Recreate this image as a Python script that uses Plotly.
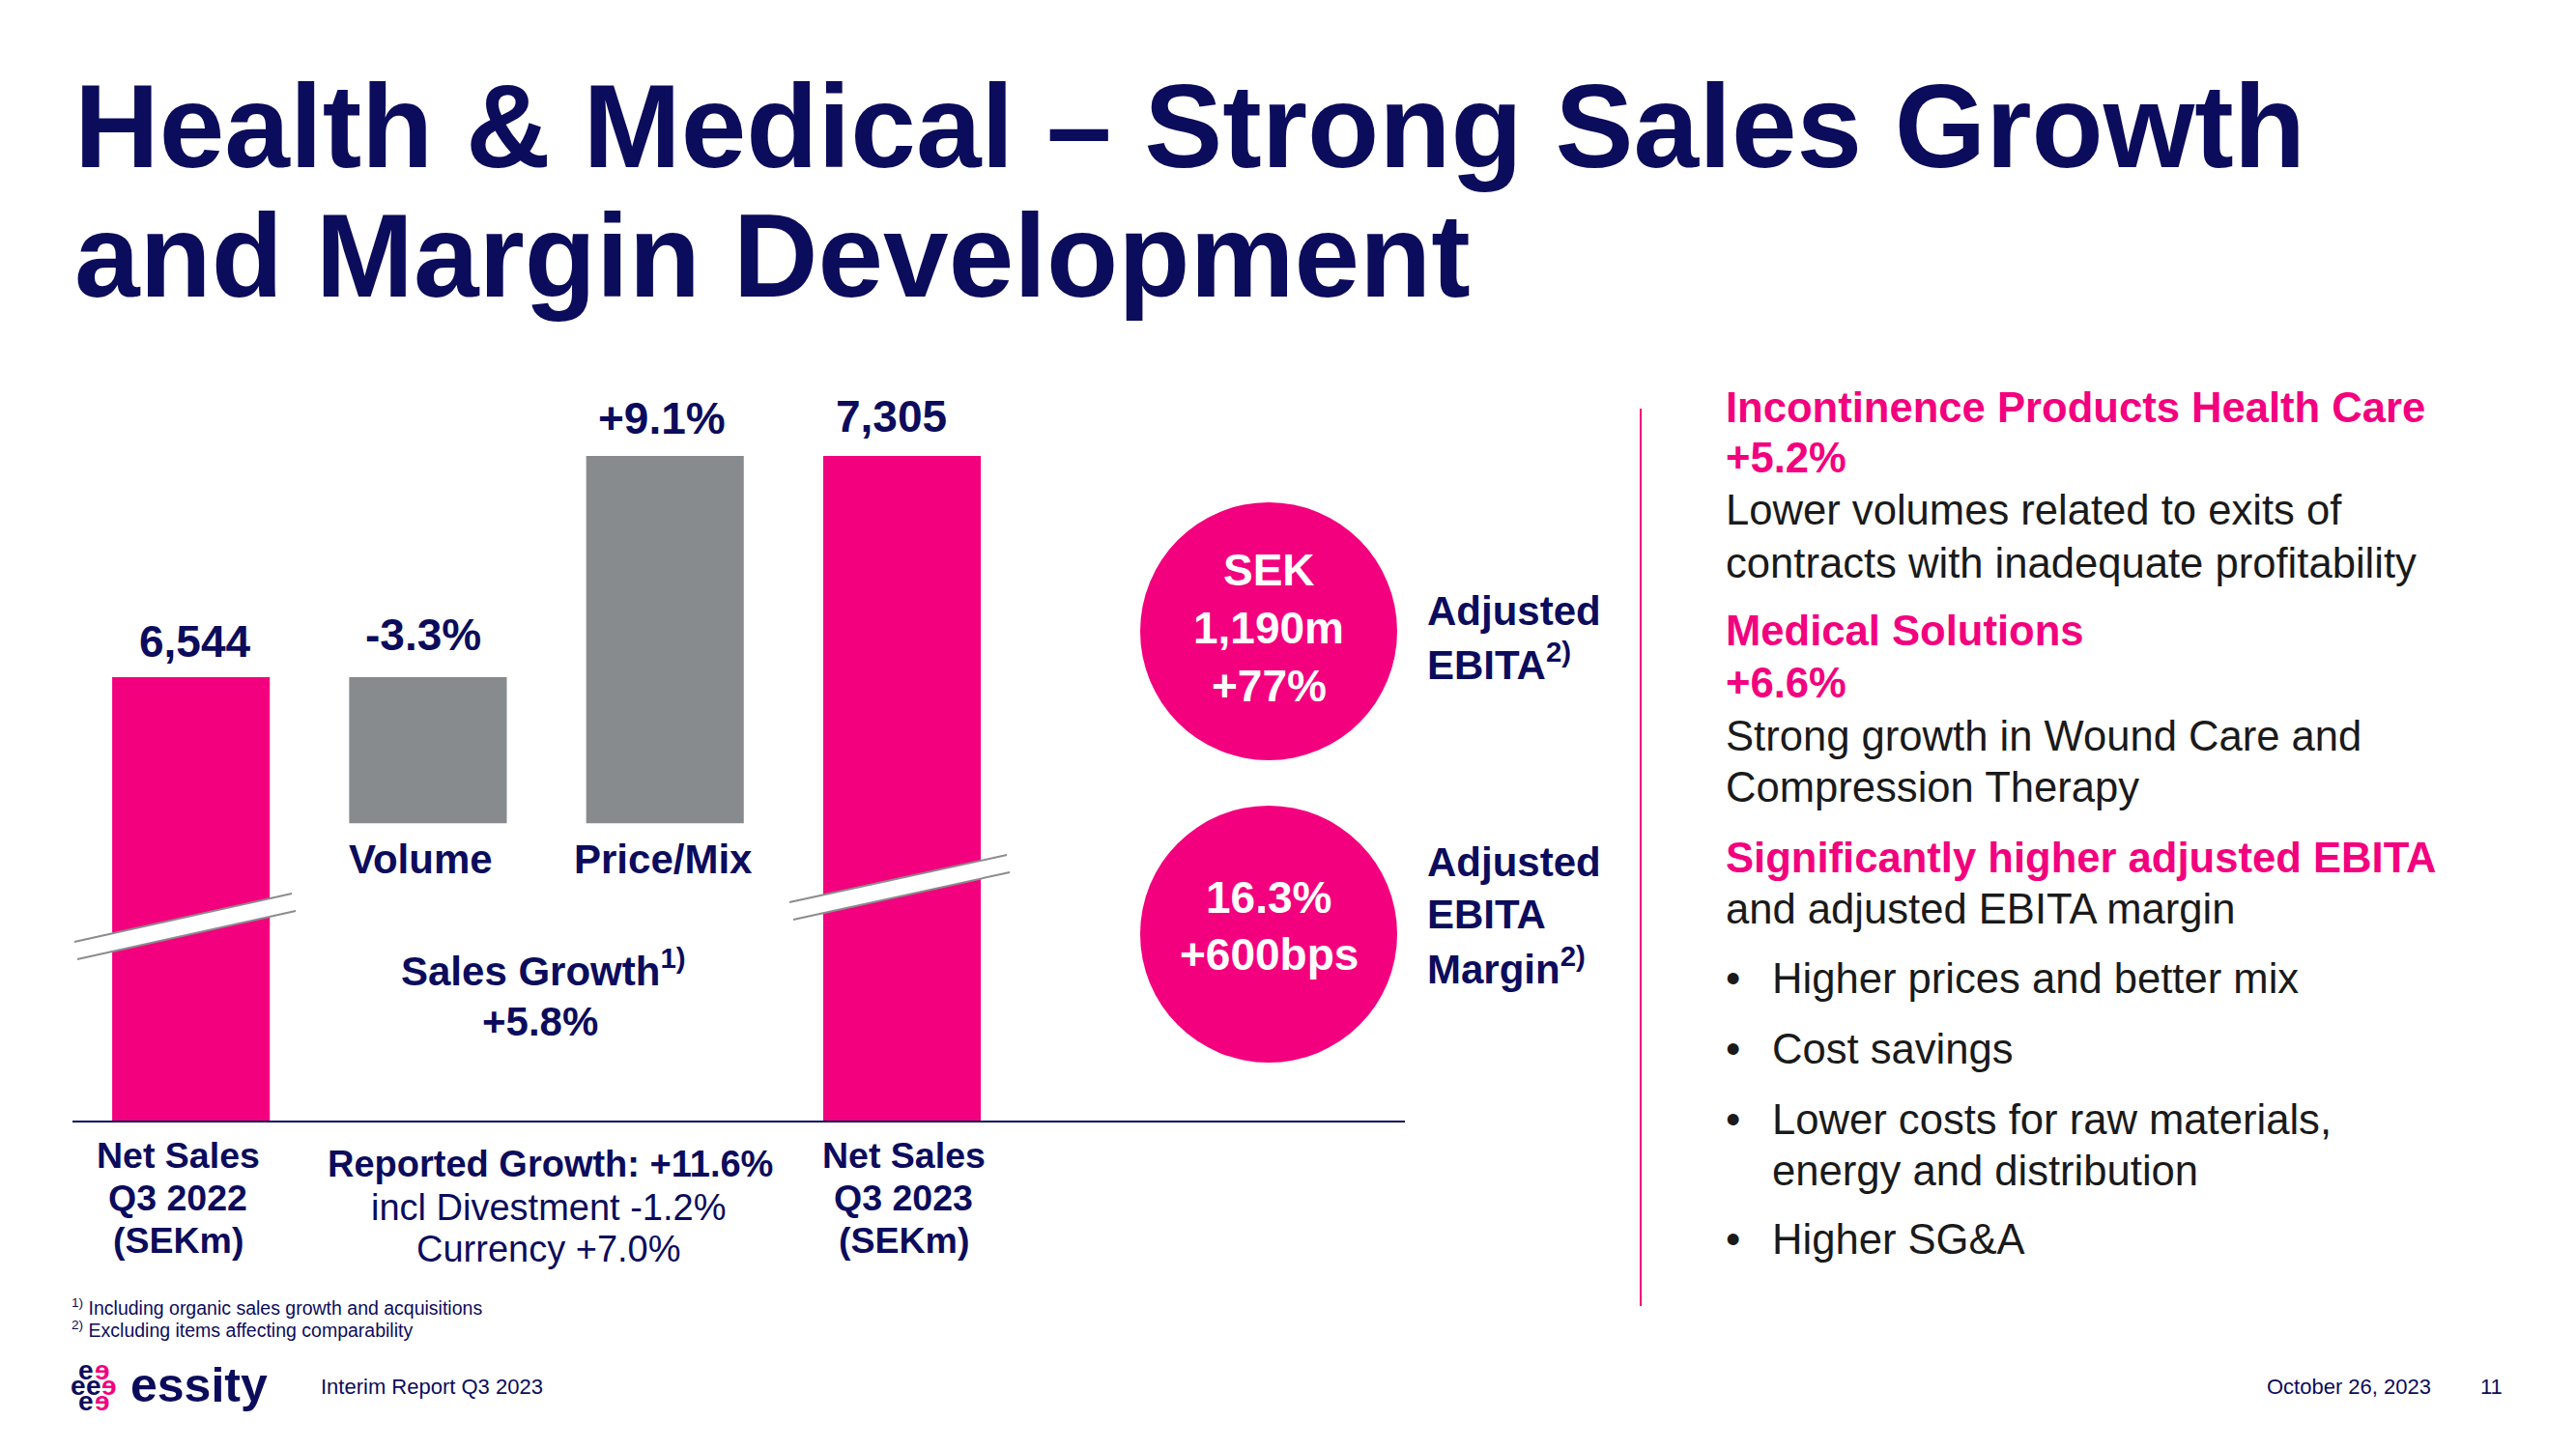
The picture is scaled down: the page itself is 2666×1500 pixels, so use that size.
import plotly.graph_objects as go

W, H = 2666, 1500
NAVY = "#0C0C5C"
PINK = "#F3007F"
GRAY = "#888B8D"
DARK = "#1A1A1A"
FONT = "Liberation Sans, Arial, sans-serif"

# ---------------- data ----------------
categories = ["Net Sales Q3 2022", "Volume", "Price/Mix", "Net Sales Q3 2023"]
net_sales = [6544, 7305]                 # SEKm, Q3 2022 and Q3 2023
bridge_steps = [-502, 1263]              # displayed heights of the Volume / Price-Mix bridge bars (schematic)
value_labels = ["6,544", "-3.3%", "+9.1%", "7,305"]
bridge_names = ["Volume", "Price/Mix"]
net_sales_labels = ["Net Sales<br>Q3 2022<br>(SEKm)", "Net Sales<br>Q3 2023<br>(SEKm)"]
sales_growth = "+5.8%"
reported_lines = ["Reported Growth: +11.6%", "incl Divestment -1.2%", "Currency +7.0%"]
kpi_circles = [["SEK", "1,190m", "+77%"], ["16.3%", "+600bps"]]
kpi_names = [["Adjusted", "EBITA<sup>2)</sup>"], ["Adjusted", "EBITA", "Margin<sup>2)</sup>"]]

right_lines = [
    ("h", "Incontinence Products Health Care"),
    ("h", "+5.2%"),
    ("t", "Lower volumes related to exits of"),
    ("t", "contracts with inadequate profitability"),
    ("h", "Medical Solutions"),
    ("h", "+6.6%"),
    ("t", "Strong growth in Wound Care and"),
    ("t", "Compression Therapy"),
    ("h", "Significantly higher adjusted EBITA"),
    ("t", "and adjusted EBITA margin"),
    ("b", "Higher prices and better mix"),
    ("b", "Cost savings"),
    ("b", "Lower costs for raw materials,"),
    ("c", "energy and distribution"),
    ("b", "Higher SG&A"),
]
footnotes = ["<sup>1)</sup> Including organic sales growth and acquisitions",
             "<sup>2)</sup> Excluding items affecting comparability"]
title_lines = ["Health & Medical – Strong Sales Growth", "and Margin Development"]

# ---------------- helpers ----------------
def px(x):
    return x / W

def py(y):
    return 1 - y / H

annotations = []

def txt(x, y, s, size, color=NAVY, bold=False, anchor="center"):
    annotations.append(dict(
        x=px(x), y=py(y), xref="paper", yref="paper", text=(f"<b>{s}</b>" if bold else s),
        showarrow=False, xanchor=anchor, yanchor="middle",
        font=dict(family=FONT, size=size, color=color)))

# ---------------- bars ----------------
xs = list(range(len(categories)))
base_pm = net_sales[0] + bridge_steps[0]
fig = go.Figure()
fig.add_trace(go.Bar(x=[xs[0], xs[3]], y=net_sales, base=[0, 0], width=0.665,
                     marker=dict(color=PINK, line=dict(width=0)), hoverinfo="skip"))
fig.add_trace(go.Bar(x=[xs[1], xs[2]], y=bridge_steps, base=[net_sales[0], base_pm], width=0.665,
                     marker=dict(color=GRAY, line=dict(width=0)), hoverinfo="skip"))

tops = [net_sales[0], net_sales[0], base_pm + bridge_steps[1], net_sales[1]]
yshifts = [37, 44, 39, 41]
xshifts = [4, -5, -3, -11]
for i, lab in enumerate(value_labels):
    annotations.append(dict(x=xs[i], y=tops[i], xref="x", yref="y", text=f"<b>{lab}</b>",
                            showarrow=False, xanchor="center", yanchor="middle",
                            yshift=yshifts[i], xshift=xshifts[i],
                            font=dict(family=FONT, size=46, color=NAVY)))

# ---------------- texts ----------------
txt(75, 131, f"<b>{title_lines[0]}</b>", 121.5, anchor="left")
txt(75, 265, f"<b>{title_lines[1]}</b>", 121.5, anchor="left")

txt(435, 889, bridge_names[0], 42, bold=True)
txt(686, 889, bridge_names[1], 42, bold=True)
txt(562, 1002, "Sales Growth<sup>1)</sup>", 42, bold=True)
txt(559, 1057, sales_growth, 42, bold=True)

for cx, lab in zip([184, 935], net_sales_labels):
    for ln, yy in zip(lab.split("<br>"), [1196, 1240, 1284]):
        txt(cx, yy, ln, 37.5, bold=True)

txt(569, 1205, reported_lines[0], 38, bold=True)
txt(567, 1250, reported_lines[1], 38)
txt(568, 1293, reported_lines[2], 38)

# circles
circ = [(1180, 520, 1446, 787), (1180, 834, 1446, 1100)]
circ_text_y = [[590, 650, 710], [929, 988]]
for (x0, y0, x1, y1), lines, ys in zip(circ, kpi_circles, circ_text_y):
    for ln, yy in zip(lines, ys):
        txt(1313, yy, ln, 46, color="white", bold=True)
kpi_y = [[633, 685], [892, 946, 1000]]
for names, ys in zip(kpi_names, kpi_y):
    for ln, yy in zip(names, ys):
        txt(1475, yy, ln, 42, bold=True, anchor="left")

# right column
right_y = [422, 474, 528, 583, 653, 707, 762, 815, 888, 941, 1013, 1086, 1159, 1212, 1283]
for (kind, s), yy in zip(right_lines, right_y):
    if kind == "h":
        txt(1784, yy, s, 43.6, color=PINK, bold=True, anchor="left")
    elif kind == "t":
        txt(1784, yy, s, 43.6, color=DARK, anchor="left")
    elif kind == "b":
        txt(1793, yy, "•", 43.6, color=DARK, anchor="center")
        txt(1832, yy, s, 43.6, color=DARK, anchor="left")
    else:
        txt(1832, yy, s, 43.6, color=DARK, anchor="left")

# footnotes and footer
txt(72, 1353, footnotes[0], 19.5, anchor="left")
txt(72, 1376, footnotes[1], 19.5, anchor="left")
txt(330, 1435, "Interim Report Q3 2023", 22, anchor="left")
txt(2344, 1435, "October 26, 2023", 22, anchor="left")
txt(2578, 1435, "11", 22)
txt(133, 1434, "<b>essity</b>", 50, anchor="left")
logo = [(89, 1418, "e", NAVY), (106, 1418, "ɘ", PINK),
        (81, 1434, "e", NAVY), (97, 1434, "e", NAVY), (113, 1434, "ɘ", PINK),
        (89, 1450, "e", NAVY), (106, 1450, "ɘ", PINK)]
for lx, ly, ch, col in logo:
    txt(lx, ly, f"<b>{ch}</b>", 28, color=col)

# ---------------- shapes ----------------
shapes = []
for (x0, y0, x1, y1) in circ:
    shapes.append(dict(type="circle", xref="paper", yref="paper", x0=px(x0), x1=px(x1),
                       y0=py(y1), y1=py(y0), fillcolor=PINK, line=dict(width=0), layer="below"))
shapes.append(dict(type="line", xref="paper", yref="paper", x0=px(1698), x1=px(1698),
                   y0=py(423), y1=py(1352), line=dict(color=PINK, width=2)))

breaks = [((77, 975), (302, 925), (80, 993), (306, 943)),
          ((817, 934), (1042, 885), (821, 952), (1045, 903))]
for a, b, c, d in breaks:
    path = (f"M {px(a[0])},{py(a[1])} L {px(b[0])},{py(b[1])} "
            f"L {px(d[0])},{py(d[1])} L {px(c[0])},{py(c[1])} Z")
    shapes.append(dict(type="path", xref="paper", yref="paper", path=path,
                       fillcolor="white", line=dict(width=0), layer="above"))
    for p, q in ((a, b), (c, d)):
        shapes.append(dict(type="line", xref="paper", yref="paper", x0=px(p[0]), y0=py(p[1]),
                           x1=px(q[0]), y1=py(q[1]), line=dict(color="#8C8C8C", width=2),
                           layer="above"))

fig.update_layout(
    width=W, height=H, autosize=False,
    margin=dict(l=0, r=0, t=0, b=0, pad=0),
    paper_bgcolor="white", plot_bgcolor="white",
    showlegend=False, barmode="overlay",
    xaxis=dict(domain=[px(75), px(1454)], range=[-0.5, 5.122], showline=True,
               linecolor=NAVY, linewidth=2, showgrid=False, zeroline=False,
               showticklabels=False, ticks="", fixedrange=True),
    yaxis=dict(domain=[py(1160), py(380)], range=[5019, 7611], showline=False,
               showgrid=False, zeroline=False, showticklabels=False, ticks="", fixedrange=True),
    annotations=annotations, shapes=shapes,
)

fig.write_html("out.html", config={"displayModeBar": False})
